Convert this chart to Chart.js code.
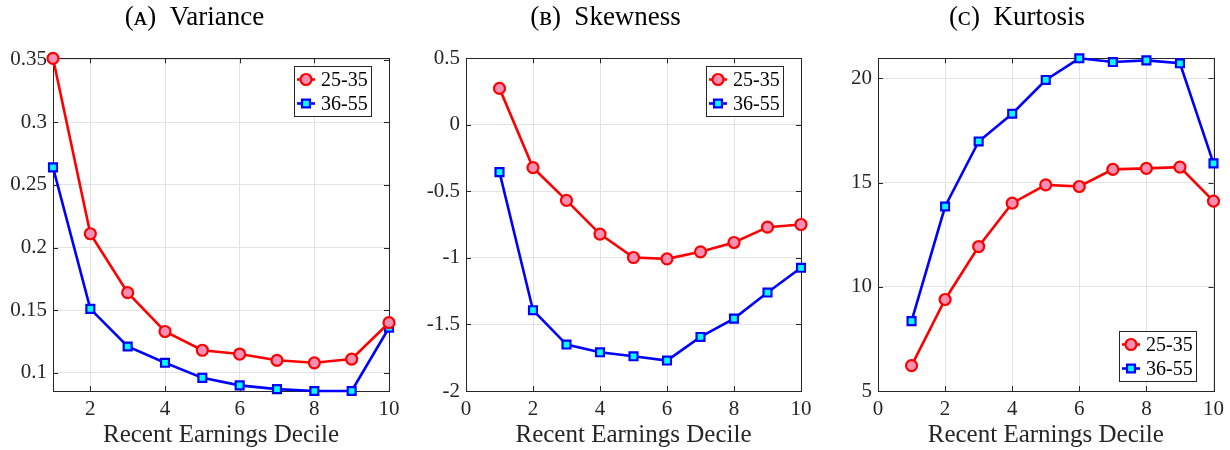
<!DOCTYPE html>
<html>
<head>
<meta charset="utf-8">
<script src="https://cdn.jsdelivr.net/npm/chart.js@4.4.1/dist/chart.umd.min.js"></script>
<style>
  body { margin: 0; background: #fff; }
  .panel { position: absolute; top: 0; width: 410px; height: 450px; }
</style>
</head>
<body>
<div class="panel" style="left:0px"><canvas id="chartA"></canvas></div>
<div class="panel" style="left:410px"><canvas id="chartB"></canvas></div>
<div class="panel" style="left:820px"><canvas id="chartC"></canvas></div>
<script>
// ---- data ----
var deciles = [1, 2, 3, 4, 5, 6, 7, 8, 9, 10];
var seriesLabels = ['25-35', '36-55'];

var varianceYoung = [0.351, 0.211, 0.164, 0.133, 0.118, 0.115, 0.110, 0.108, 0.111, 0.140];
var varianceOld   = [0.264, 0.151, 0.121, 0.108, 0.096, 0.090, 0.087, 0.0855, 0.0855, 0.136];

var skewYoung = [0.274, -0.322, -0.568, -0.821, -0.997, -1.007, -0.954, -0.884, -0.769, -0.749];
var skewOld   = [-0.355, -1.393, -1.651, -1.709, -1.739, -1.771, -1.594, -1.456, -1.260, -1.074];

var kurtYoung = [6.22, 9.39, 11.93, 14.01, 14.89, 14.81, 15.63, 15.68, 15.74, 14.11];
var kurtOld   = [8.35, 13.85, 16.97, 18.30, 19.92, 20.96, 20.78, 20.86, 20.72, 15.92];

var xTicksA  = [2, 4, 6, 8, 10];
var xTicksBC = [0, 2, 4, 6, 8, 10];
var yTicksA  = [0.1, 0.15, 0.2, 0.25, 0.3, 0.35];
var yTicksB  = [-2, -1.5, -1, -0.5, 0, 0.5];
var yTicksC  = [5, 10, 15, 20];

var serif = '"Liberation Serif", "DejaVu Serif", serif';
var axisColor = '#262626';

// frame with inward ticks, like a matlab box
var boxPlugin = {
    id: 'matlabBox',
    beforeDatasetsDraw: function(chart) {
        var a = chart.chartArea, ctx = chart.ctx;
        var xs = chart.scales.x, ys = chart.scales.y;
        var tl = 5;
        ctx.save();
        ctx.strokeStyle = axisColor;
        ctx.lineWidth = 1;
        ctx.beginPath();
        xs.ticks.forEach(function(t) {
            var px = Math.round(xs.getPixelForValue(t.value)) + 0.5;
            ctx.moveTo(px, a.bottom); ctx.lineTo(px, a.bottom - tl);
            ctx.moveTo(px, a.top); ctx.lineTo(px, a.top + tl);
        });
        ys.ticks.forEach(function(t) {
            var py = Math.round(ys.getPixelForValue(t.value)) + 0.5;
            ctx.moveTo(a.left, py); ctx.lineTo(a.left + tl, py);
            ctx.moveTo(a.right, py); ctx.lineTo(a.right - tl, py);
        });
        ctx.stroke();
        ctx.strokeRect(Math.round(a.left) + 0.5, Math.round(a.top) + 0.5,
                       Math.round(a.right - a.left), Math.round(a.bottom - a.top));
        ctx.restore();
    }
};

// legend box drawn inside the plot area
var legendPlugin = {
    id: 'boxLegend',
    afterDraw: function(chart) {
        var corner = chart.options.plugins.boxLegend.corner;
        var a = chart.chartArea, ctx = chart.ctx;
        var w = 78, h = 51;
        var left = Math.round(a.right - 17 - w);
        var top = Math.round(corner === 'ne' ? a.top + 8 : a.bottom - 9 - h);
        ctx.save();
        ctx.fillStyle = '#fff';
        ctx.fillRect(left, top, w, h);
        ctx.strokeStyle = axisColor;
        ctx.lineWidth = 1;
        ctx.strokeRect(left + 0.5, top + 0.5, w - 1, h - 1);
        chart.data.datasets.forEach(function(ds, i) {
            var y = top + 13.5 + i * 24;
            ctx.strokeStyle = ds.borderColor;
            ctx.lineWidth = ds.borderWidth;
            ctx.beginPath();
            ctx.moveTo(left + 3, y); ctx.lineTo(left + 21, y);
            ctx.stroke();
            ctx.fillStyle = ds.pointBackgroundColor;
            ctx.strokeStyle = ds.pointBorderColor;
            ctx.lineWidth = ds.pointBorderWidth;
            ctx.beginPath();
            if (ds.pointStyle === 'rect') {
                var s = ds.pointRadius * Math.SQRT1_2;
                ctx.rect(left + 12 - s, y - s, 2 * s, 2 * s);
            } else {
                ctx.arc(left + 12, y, ds.pointRadius, 0, Math.PI * 2);
            }
            ctx.fill();
            ctx.stroke();
            ctx.fillStyle = '#000';
            ctx.font = '20px ' + serif;
            ctx.textBaseline = 'middle';
            ctx.textAlign = 'left';
            ctx.fillText(ds.label, left + 27, y + 1);
        });
        ctx.restore();
    }
};

function toPoints(vals) {
    return deciles.map(function(d, i) { return { x: d, y: vals[i] }; });
}

function makePanel(id, title, young, old, xMin, xTicks, yMin, yMax, yTicks, yWidth, padRight, corner) {
    var ctx = document.getElementById(id);
    return new Chart(ctx, {
        type: 'line',
        data: {
            datasets: [
                {
                    label: seriesLabels[0],
                    data: toPoints(young),
                    borderColor: '#ff0000',
                    borderWidth: 2.6,
                    pointStyle: 'circle',
                    pointRadius: 5.5,
                    pointBorderWidth: 2.2,
                    pointBackgroundColor: '#f78fb3',
                    pointBorderColor: '#ff0000',
                    clip: false
                },
                {
                    label: seriesLabels[1],
                    data: toPoints(old),
                    borderColor: '#0000ff',
                    borderWidth: 2.6,
                    pointStyle: 'rect',
                    pointRadius: 5.6,
                    pointBorderWidth: 2.2,
                    pointBackgroundColor: '#00ffff',
                    pointBorderColor: '#0000ff',
                    clip: false
                }
            ]
        },
        options: {
            responsive: true,
            maintainAspectRatio: false,
            animation: false,
            layout: { padding: { left: 0, right: padRight, top: 0, bottom: 0 } },
            scales: {
                x: {
                    type: 'linear',
                    min: xMin, max: 10,
                    afterBuildTicks: function(s) { s.ticks = xTicks.map(function(v) { return { value: v }; }); },
                    afterFit: function(s) { s.height = 59; },
                    grid: { color: '#e3e3e3', drawTicks: false },
                    border: { display: false },
                    ticks: {
                        color: axisColor, padding: 6,
                        font: { family: serif, size: 21 },
                        maxRotation: 0,
                        callback: function(v) { return String(v); }
                    },
                    title: {
                        display: true, text: 'Recent Earnings Decile',
                        color: axisColor, padding: { top: 0, bottom: 0 },
                        font: { family: serif, size: 25 }
                    }
                },
                y: {
                    min: yMin, max: yMax,
                    afterBuildTicks: function(s) { s.ticks = yTicks.map(function(v) { return { value: v }; }); },
                    afterFit: function(s) { s.width = yWidth; },
                    grid: { color: '#e3e3e3', drawTicks: false },
                    border: { display: false },
                    ticks: {
                        color: axisColor, padding: 6,
                        font: { family: serif, size: 21 },
                        callback: function(v) { return String(v); }
                    }
                }
            },
            plugins: {
                legend: { display: false },
                tooltip: { enabled: false },
                title: {
                    display: true, text: title, color: '#000',
                    padding: { top: 1.8, bottom: 24.1 },
                    font: { family: serif, size: 27, weight: 'normal' }
                },
                boxLegend: { corner: corner }
            }
        },
        plugins: [boxPlugin, legendPlugin]
    });
}

makePanel('chartA', '(ᴀ)\u2002Variance', varianceYoung, varianceOld, 1, xTicksA, 0.0855, 0.351, yTicksA, 53, 21, 'ne');
makePanel('chartB', '(ʙ)\u2002Skewness', skewYoung, skewOld, 0, xTicksBC, -2, 0.5, yTicksB, 56, 19, 'ne');
makePanel('chartC', '(ᴄ)\u2002Kurtosis', kurtYoung, kurtOld, 0, xTicksBC, 5, 20.96, yTicksC, 58, 16, 'se');
</script>
</body>
</html>
